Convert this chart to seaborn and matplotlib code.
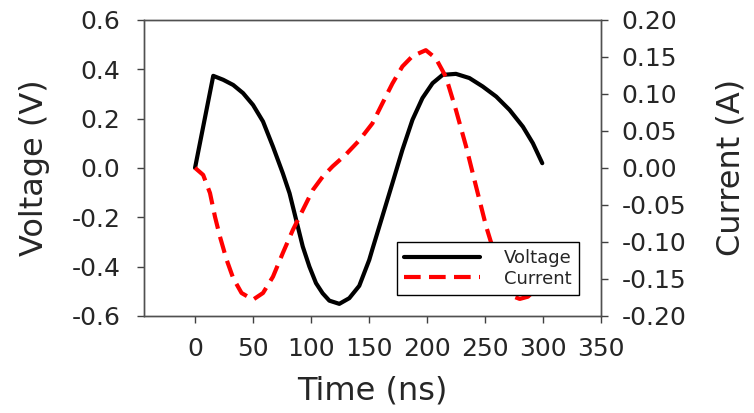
import numpy as np
import pandas as pd

import seaborn as sns
import matplotlib.pyplot as plt
from matplotlib.lines import Line2D

# values
time_v = [0, 15.7, 24.3, 32.9, 41.4, 50, 58.6, 67.2, 75.7, 81.5, 87.2, 92.9, 98.6, 104.3,
          110, 115.8, 124.4, 133, 141.6, 150.2, 152.9, 161.5, 170.2, 178.8, 187.5, 196.1,
          204.8, 213.5, 225, 236.6, 248, 259.7, 271.2, 282.7, 291.3, 299.4]
voltage = [0.0, 0.373, 0.357, 0.336, 0.303, 0.255, 0.188, 0.086, -0.022, -0.103, -0.211,
           -0.319, -0.40, -0.467, -0.508, -0.538, -0.551, -0.528, -0.478, -0.373, -0.330,
           -0.197, -0.062, 0.073, 0.195, 0.283, 0.343, 0.377, 0.381, 0.364, 0.33, 0.289,
           0.235, 0.167, 0.10, 0.019]

time_i = [0, 7, 12.9, 17.2, 21.5, 27.2, 32.9, 40.1, 50, 58.6, 67.2, 75.7, 84.3, 92.9,
          101.5, 110, 118.6, 130, 141.5, 152.9, 161.5, 170.2, 178.8, 187.5, 199, 207.6,
          216.3, 225, 233.7, 242.3, 251, 260, 268, 275, 280, 287, 291]
current = [0.0, -0.0095, -0.034, -0.066, -0.093, -0.124, -0.149, -0.169, -0.178, -0.169,
           -0.147, -0.115, -0.084, -0.057, -0.030, -0.012, 0.002, 0.018, 0.037, 0.060, 0.087,
           0.114, 0.137, 0.151, 0.159, 0.148, 0.123, 0.078, 0.029, -0.025, -0.079, -0.125,
           -0.16, -0.174, -0.177, -0.174, -0.168]

x_ticks = [0, 50, 100, 150, 200, 250, 300, 350]
v_ticks = [-0.6, -0.4, -0.2, 0.0, 0.2, 0.4, 0.6]
i_ticks = [-0.20, -0.15, -0.10, -0.05, 0.00, 0.05, 0.10, 0.15, 0.20]

sns.set_style('ticks')
plt.rcParams['font.family'] = ['DejaVu Sans']
plt.rcParams['axes.unicode_minus'] = False

volt_df = pd.DataFrame({'Time': time_v, 'Voltage': voltage})
curr_df = pd.DataFrame({'Time': time_i, 'Current': current})

fig = plt.figure(figsize=(7.54, 4.13), dpi=100)
ax = fig.add_axes([0.191, 0.235, 0.606, 0.717])
ax2 = ax.twinx()

sns.lineplot(data=volt_df, x='Time', y='Voltage', ax=ax, color='black',
             linewidth=3, sort=False)
sns.lineplot(data=curr_df, x='Time', y='Current', ax=ax2, color='#ff0000',
             linewidth=3, sort=False)
ax2.lines[0].set_dashes([4, 2])
for ln in ax.lines + ax2.lines:
    ln.set_solid_joinstyle('round')
    ln.set_dash_joinstyle('round')

ax.set_xlim(-44, 350)
ax.set_ylim(-0.6, 0.6)
ax2.set_ylim(-0.2, 0.2)

ax.set_xticks(x_ticks)
ax.set_yticks(v_ticks)
ax.set_yticklabels([f'{v:.1f}' for v in v_ticks])
ax2.set_yticks(i_ticks)
ax2.set_yticklabels([f'{v:.2f}' for v in i_ticks])

for a in (ax, ax2):
    a.tick_params(direction='out', length=5, width=1, color='#404040', labelsize=18)
    for s in a.spines.values():
        s.set_visible(True)
        s.set_color('#505050')
        s.set_linewidth(1)
ax.tick_params(axis='x', pad=10)
ax.tick_params(axis='y', pad=12)
ax2.tick_params(axis='y', pad=10)

ax.set_xlabel('Time (ns)', fontsize=23)
ax.set_ylabel('Voltage (V)', fontsize=23)
ax2.set_ylabel('Current (A)', fontsize=23)
ax.xaxis.set_label_coords(0.5, -0.2)
ax.yaxis.set_label_coords(-0.205, 0.5)
ax2.yaxis.set_label_coords(1.25, 0.5)

handles = [Line2D([], [], color='black', linewidth=3),
           Line2D([], [], color='#ff0000', linewidth=3, dashes=[4, 2])]
leg = ax2.legend(handles, ['Voltage', 'Current'], loc='lower left',
                 bbox_to_anchor=(0.554, 0.071), fontsize=13, frameon=True,
                 fancybox=False, handlelength=4.2, handletextpad=1.3,
                 borderpad=0.4, labelspacing=0.15, borderaxespad=0)
leg.get_frame().set_edgecolor('black')
leg.get_frame().set_linewidth(1)
leg.get_frame().set_alpha(1)

plt.savefig('out.png', dpi=100)
